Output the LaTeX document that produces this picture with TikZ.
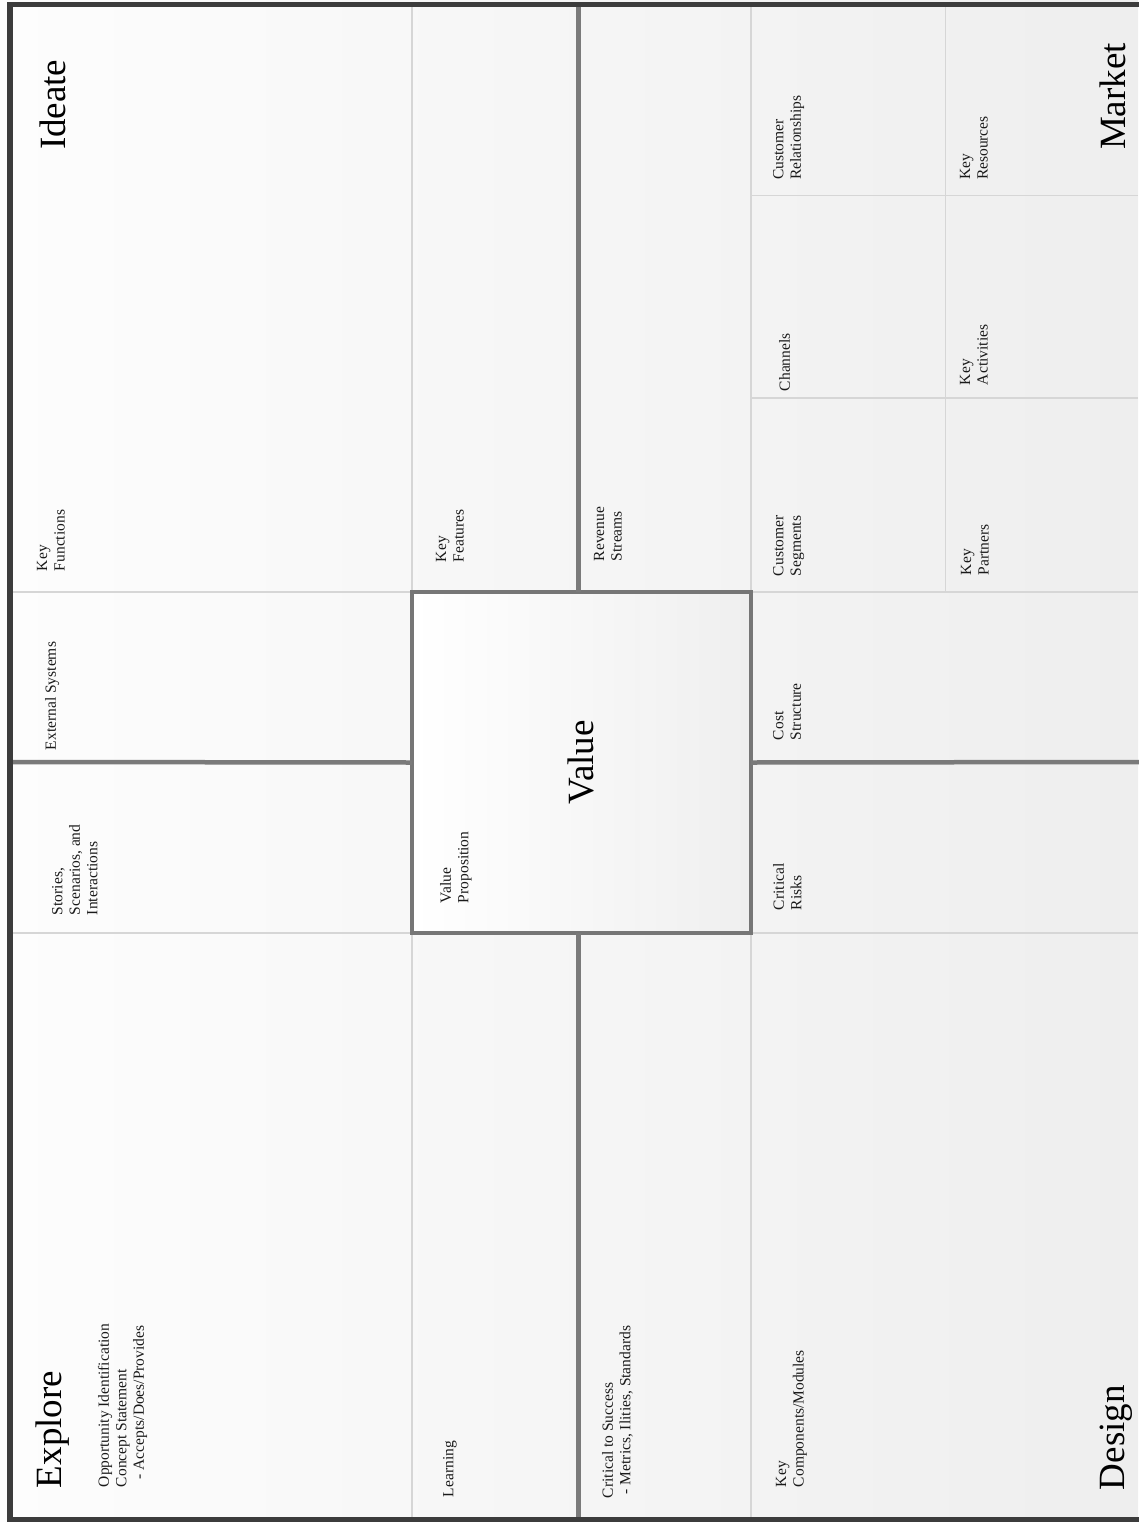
\documentclass[tikz,border=0pt]{standalone}
\usepackage{fontspec}
\setmainfont{Liberation Serif}
\definecolor{outerc}{HTML}{3C3C3C}
\definecolor{sepc}{HTML}{7A7A7A}
\definecolor{thinc}{HTML}{D6D6D6}
\definecolor{boxc}{HTML}{767676}
\definecolor{bgl}{HTML}{FDFDFD}
\definecolor{bgr}{HTML}{EEEEEE}
\definecolor{boxr}{HTML}{EFEFEF}
\definecolor{textc}{HTML}{1A1A1A}
\begin{document}
\begin{tikzpicture}[x=1pt,y=-1pt,
  outerline/.style={draw=outerc,line width=5.5pt},
  thicksep/.style={draw=sepc,line width=4.5pt},
  thinsep/.style={draw=thinc,line width=1.2pt},
  lbl/.style={rotate=90,anchor=north west,inner sep=0pt,outer sep=0pt,align=left,
    font=\fontsize{15.5}{17.5}\selectfont,text=textc},
  titlelbl/.style={rotate=90,anchor=base west,inner sep=0pt,outer sep=0pt,
    font=\fontsize{37}{40}\selectfont,text=black},
  valuebox/.style={draw=boxc,line width=3.5pt,left color=white,right color=boxr,
    minimum width=339pt,minimum height=341pt,inner sep=0pt,outer sep=0pt},
]
\useasboundingbox (0,0) rectangle (1138,1522);
\fill[left color=bgl,right color=bgr] (0,0) rectangle (1138,1522);

% named corner coordinates of the frame
\coordinate (tl) at (9.75,4.75);
\coordinate (br) at (1145,1519.25);
\coordinate (vtop) at (578.5,4);
\coordinate (vbot) at (578.5,1522);

% thin separators
\draw[thinsep] (412,4) -- (412,592);
\draw[thinsep] (412,933) -- (412,1522);
\draw[thinsep] (751,4) -- (751,592);
\draw[thinsep] (751,933) -- (751,1522);
\draw[thinsep] (945.5,4) -- (945.5,592);
\draw[thinsep] (10,592) -- (412,592);
\draw[thinsep] (751,592) -- (1138,592);
\draw[thinsep] (10,933) -- (412,933);
\draw[thinsep] (751,933) -- (1138,933);
\draw[thinsep] (751,195.5) -- (1138,195.5);
\draw[thinsep] (751,398) -- (1138,398);

% central value box
\node[valuebox] (value) at (581.5,762.5) {};

% thick separators
\draw[thicksep] (vtop) -- (vtop |- value.north);
\draw[thicksep] (vbot |- value.south) -- (vbot);
\draw[thicksep] (10,762) -- (value.west);
\draw[thicksep] (value.east) -- (1145,762);

% outer frame
\draw[outerline] (tl) rectangle (br);

% titles
\node[titlelbl] (ideate) at (65,150) {Ideate};
\node[titlelbl] (explore) at (61,1488) {Explore};
\node[titlelbl] (market) at (1125,150) {Market};
\node[titlelbl] (design) at (1124,1490) {Design};
\node[titlelbl,anchor=base] (valuet) at (593,762.5) {Value};

% labels, left column
\node[lbl] (keyfun) at (37,571) {Key\\Functions};
\node[lbl] (extsys) at (45,750) {External Systems};
\node[lbl] (stories) at (52,915) {Stories,\\Scenarios, and\\Interactions};
\node[lbl] (opport) at (98,1487) {Opportunity Identification\\Concept Statement\\\ \ - Accepts/Does/Provides};

% second column
\node[lbl] (keyfeat) at (436,562) {Key\\Features};
\node[lbl] (valprop) at (440,903) {Value\\Proposition};
\node[lbl] (learning) at (443,1497) {Learning};

% third column
\node[lbl] (revenue) at (594,561) {Revenue\\Streams};
\node[lbl] (cts) at (602,1498) {Critical to Success\\\ - Metrics, Ilities, Standards};

% right part
\node[lbl] (custrel) at (773,180) {Customer\\Relationships};
\node[lbl] (channels) at (779,391) {Channels};
\node[lbl] (custseg) at (773,576) {Customer\\Segments};
\node[lbl] (keyres) at (960,180) {Key\\Resources};
\node[lbl] (keyact) at (960,385) {Key\\Activities};
\node[lbl] (keypart) at (961,575) {Key\\Partners};
\node[lbl] (cost) at (773,740) {Cost\\Structure};
\node[lbl] (risks) at (773,910) {Critical\\Risks};
\node[lbl] (keycomp) at (776,1487) {Key\\Components/Modules};
\end{tikzpicture}
\end{document}
